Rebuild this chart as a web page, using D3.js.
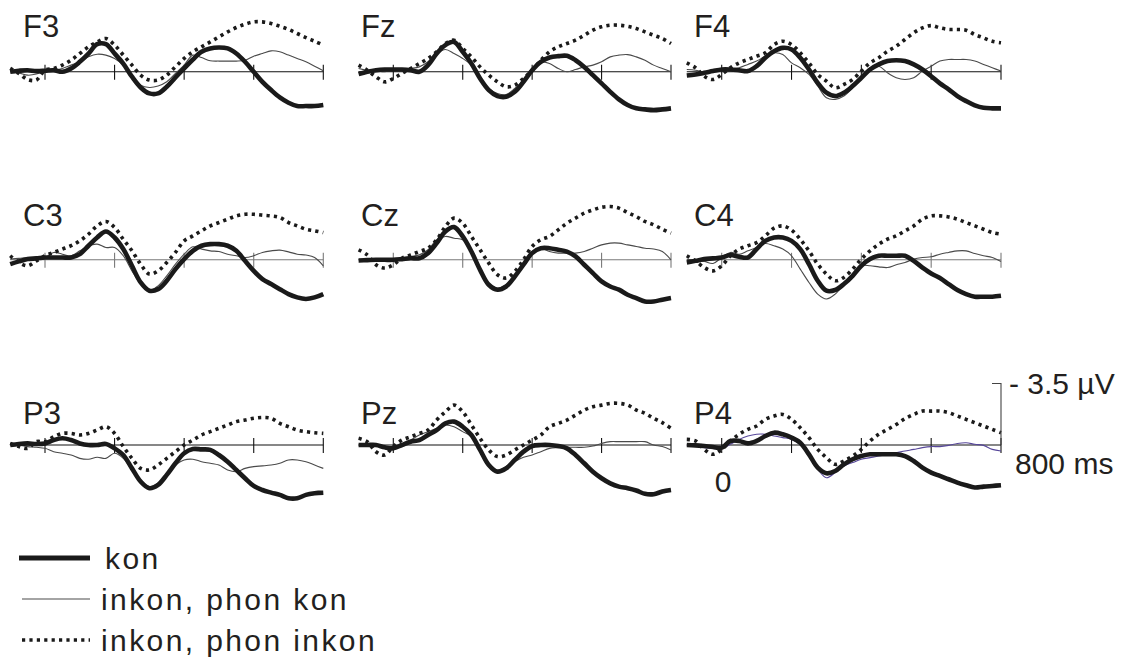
<!DOCTYPE html>
<html>
<head>
<meta charset="utf-8">
<script src="https://cdn.jsdelivr.net/npm/d3@7"></script>
<style>
  body { margin: 0; background: #fff; }
  svg { display: block; }
  text { font-family: "Liberation Sans", Arial, sans-serif; fill: #231f20; }
</style>
</head>
<body>
<svg id="chart" width="1121" height="663"></svg>
<script>
// Sample times (ms) relative to stimulus onset
const times = [-100,-75,-50,-25,0,25,50,75,100,125,150,175,200,225,250,275,300,325,350,375,400,425,450,475,500,525,550,575,600,625,650,675,700,725,750,775,800];
const timeTicks = [0, 200, 400, 600, 800];
const channelRows = [["F3", "Fz", "F4"], ["C3", "Cz", "C4"], ["P3", "Pz", "P4"]];
const conditions = ["kon", "inkon, phon kon", "inkon, phon inkon"];
const scaleAmplitude = -3.5; // µV, negative plotted upward

// Grand-average amplitudes (µV), one array per channel and condition
const F3_kon = [0,-0.06,-0.09,-0.04,-0.06,-0.09,0,-0.19,-0.57,-1.04,-1.57,-1.57,-1.04,-0.47,0.28,0.89,1.23,1.23,0.85,0.32,-0.19,-0.70,-1.14,-1.33,-1.38,-1.33,-1.04,-0.57,0,0.57,1.04,1.46,1.76,1.95,1.95,1.95,1.89];
const F3_phonKon = [0,0.06,0.19,0.13,-0.06,-0.09,-0.19,-0.38,-0.57,-0.85,-1.0,-0.95,-0.76,-0.38,0.19,0.76,0.89,0.81,0.57,0.09,-0.38,-0.95,-0.81,-0.63,-0.61,-0.61,-0.61,-0.66,-0.89,-1.04,-1.19,-1.14,-0.95,-0.76,-0.57,-0.32,-0.06];
const F3_phonInkon = [-0.19,0.09,0.44,0.47,-0.09,-0.19,-0.38,-0.66,-1.04,-1.42,-1.70,-1.89,-1.52,-0.95,-0.38,0.19,0.47,0.47,0.19,-0.28,-0.76,-1.14,-1.42,-1.70,-1.99,-2.27,-2.52,-2.71,-2.84,-2.84,-2.75,-2.59,-2.41,-2.18,-1.95,-1.74,-1.52];

const Fz_kon = [0.13,0,-0.09,-0.13,-0.13,-0.13,-0.09,0,-0.38,-1.04,-1.52,-1.70,-1.14,-0.47,0.38,1.04,1.38,1.42,1.14,0.57,-0.09,-0.57,-0.81,-0.89,-0.91,-0.66,-0.28,0.19,0.66,1.14,1.57,1.89,2.08,2.14,2.18,2.14,2.08];
const Fz_phonKon = [-0.19,-0.09,-0.06,0,-0.09,-0.13,-0.19,-0.28,-0.57,-1.04,-1.27,-1.04,-0.76,-0.38,0.28,0.95,1.23,1.29,0.95,0.47,-0.19,-0.57,-0.47,-0.19,0,-0.13,-0.28,-0.38,-0.57,-0.85,-0.95,-0.98,-0.85,-0.66,-0.38,-0.19,0];
const Fz_phonInkon = [-0.38,-0.09,0.28,0.57,0.38,0.09,-0.19,-0.47,-0.76,-1.14,-1.61,-1.80,-1.33,-0.85,-0.28,0.19,0.57,0.85,0.76,0.38,-0.09,-0.66,-1.14,-1.42,-1.61,-1.80,-2.08,-2.37,-2.56,-2.65,-2.65,-2.59,-2.46,-2.27,-2.08,-1.89,-1.61];

const F4_kon = [0.21,0.15,0.06,-0.04,-0.13,-0.13,-0.09,-0.04,-0.32,-0.80,-1.17,-1.36,-1.27,-0.80,-0.13,0.63,1.19,1.38,1.19,0.81,0.34,-0.13,-0.42,-0.61,-0.66,-0.61,-0.42,-0.13,0.25,0.66,1.00,1.38,1.67,1.91,2.05,2.08,2.08];
const F4_phonKon = [-0.13,-0.09,0.02,-0.04,-0.09,-0.17,-0.23,-0.42,-0.61,-0.89,-1.08,-0.98,-0.51,-0.23,0.15,0.81,1.48,1.57,1.38,0.91,0.25,-0.23,-0.32,0.06,0.34,0.44,0.34,-0.04,-0.32,-0.61,-0.70,-0.70,-0.70,-0.61,-0.42,-0.23,-0.04];
const F4_phonInkon = [-0.51,-0.23,0.25,0.44,0.15,-0.23,-0.51,-0.70,-0.89,-1.08,-1.55,-1.74,-1.55,-1.08,-0.51,0.15,0.53,0.91,0.72,0.44,-0.04,-0.51,-0.80,-1.17,-1.46,-1.84,-2.22,-2.50,-2.63,-2.50,-2.41,-2.41,-2.37,-2.12,-1.93,-1.74,-1.65];

const C3_kon = [0.25,0.09,-0.04,-0.08,-0.13,-0.13,-0.13,-0.13,-0.32,-0.80,-1.27,-1.61,-1.27,-0.61,0.34,1.29,1.76,1.67,1.19,0.53,-0.04,-0.51,-0.80,-0.89,-0.89,-0.80,-0.51,0.06,0.63,1.10,1.38,1.67,1.95,2.14,2.23,2.14,1.95];
const C3_phonKon = [-0.04,-0.08,-0.13,-0.13,-0.13,-0.42,-0.32,-0.23,-0.51,-0.80,-0.89,-0.70,-0.70,-0.23,0.63,1.38,1.76,1.48,0.91,0.25,-0.32,-0.74,-0.61,-0.51,-0.47,-0.32,-0.23,-0.13,-0.23,-0.42,-0.51,-0.55,-0.45,-0.32,-0.27,-0.13,0.34];
const C3_phonInkon = [-0.23,0.15,0.34,0.06,-0.23,-0.42,-0.61,-0.80,-1.08,-1.46,-1.93,-2.18,-1.84,-1.17,-0.51,0.25,0.81,0.63,0.15,-0.42,-1.08,-1.36,-1.65,-1.93,-2.12,-2.31,-2.50,-2.59,-2.59,-2.54,-2.50,-2.41,-2.12,-1.93,-1.74,-1.65,-1.55];

const Cz_kon = [0.04,0.02,0,0,0,-0.04,-0.09,-0.09,-0.38,-0.95,-1.61,-1.86,-1.33,-0.47,0.57,1.42,1.70,1.52,0.95,0.28,-0.38,-0.66,-0.66,-0.57,-0.47,-0.19,0.28,0.76,1.23,1.52,1.70,1.99,2.18,2.37,2.37,2.27,2.18];
const Cz_phonKon = [0,0,0,0.04,0,-0.09,-0.19,-0.28,-0.57,-1.14,-1.33,-1.23,-1.14,-0.57,0.47,1.33,1.61,1.42,0.85,0.19,-0.47,-0.66,-0.47,-0.38,-0.38,-0.38,-0.47,-0.66,-0.85,-0.95,-0.95,-0.85,-0.76,-0.66,-0.61,-0.47,0];
const Cz_phonInkon = [-0.57,-0.28,0.28,0.47,0.28,-0.09,-0.28,-0.47,-0.66,-1.14,-1.89,-2.37,-2.08,-1.33,-0.57,0.19,0.85,1.04,0.66,0,-0.76,-1.14,-1.33,-1.70,-2.08,-2.37,-2.65,-2.84,-2.99,-3.03,-2.94,-2.69,-2.46,-2.18,-1.99,-1.74,-1.52];

const C4_kon = [0.15,0.06,-0.04,-0.08,-0.13,-0.27,-0.17,-0.13,-0.61,-1.08,-1.27,-1.27,-1.08,-0.61,0.25,1.19,1.76,1.72,1.38,0.91,0.34,-0.04,-0.23,-0.23,-0.23,-0.23,0.06,0.44,0.78,1.04,1.38,1.72,1.95,2.10,2.10,2.10,2.05];
const C4_phonKon = [-0.04,0.06,0.09,0.21,-0.13,-0.42,-0.32,-0.51,-0.70,-0.93,-0.80,-0.61,-0.23,0.53,1.29,1.95,2.23,1.95,1.38,0.81,0.34,0.34,0.40,0.44,0.28,0.15,-0.04,-0.13,-0.17,-0.32,-0.42,-0.51,-0.51,-0.36,-0.23,-0.13,0.09];
const C4_phonInkon = [-0.23,0.06,0.44,0.63,0.34,-0.23,-0.61,-0.80,-0.98,-1.36,-1.80,-1.93,-1.69,-1.17,-0.51,0.25,0.81,1.19,1.00,0.53,-0.04,-0.51,-0.89,-1.17,-1.36,-1.65,-1.93,-2.31,-2.50,-2.50,-2.44,-2.31,-2.12,-1.93,-1.74,-1.55,-1.46];

const P3_kon = [0,-0.06,-0.09,-0.06,-0.09,-0.28,-0.38,-0.28,-0.09,0,0,-0.06,0.19,0.57,1.33,2.08,2.46,2.27,1.70,1.04,0.47,0.23,0.25,0.28,0.57,0.95,1.42,1.89,2.33,2.56,2.71,2.84,3.03,3.03,2.84,2.75,2.71];
const P3_phonKon = [-0.09,0,0.09,0.13,0.19,0.38,0.47,0.57,0.76,0.81,0.70,0.76,0.47,0.76,1.42,1.99,2.37,2.18,1.61,1.14,0.85,0.81,0.95,1.04,1.14,1.42,1.52,1.33,1.23,1.19,1.14,1.04,0.85,0.85,0.95,1.14,1.33];
const P3_phonInkon = [-0.09,0.09,0.19,-0.19,-0.19,-0.47,-0.66,-0.66,-0.57,-0.66,-0.85,-1.04,-0.66,0.09,0.76,1.33,1.42,1.14,0.76,0.38,0,-0.28,-0.57,-0.76,-0.95,-1.14,-1.33,-1.42,-1.52,-1.57,-1.52,-1.23,-1.04,-0.85,-0.76,-0.70,-0.66];

const Pz_kon = [0,0,0,0.13,0.19,0,-0.19,-0.28,-0.57,-0.85,-1.23,-1.33,-1.04,-0.57,0.28,1.14,1.52,1.33,0.85,0.38,0.06,0,0,0.06,0.19,0.57,1.04,1.52,1.89,2.18,2.37,2.46,2.59,2.78,2.80,2.65,2.56];
const Pz_phonKon = [0,0.02,0.06,0.13,0.19,0,-0.28,-0.57,-0.76,-0.95,-1.14,-1.04,-0.76,-0.47,0.28,1.14,1.42,1.23,0.95,0.70,0.57,0.38,0.19,0.15,0.13,0.13,0.13,0.06,-0.09,-0.19,-0.19,-0.19,-0.19,-0.19,0,0.09,0.28];
const Pz_phonInkon = [-0.38,-0.19,0.38,0.57,0.09,-0.28,-0.47,-0.66,-0.85,-1.42,-1.89,-2.27,-1.89,-1.14,-0.38,0.28,0.66,0.57,0.28,0,-0.28,-0.57,-1.04,-1.23,-1.42,-1.70,-1.99,-2.18,-2.27,-2.37,-2.37,-2.27,-1.99,-1.80,-1.52,-1.27,-0.95];

const P4_kon = [0,0.02,0.06,0.11,0.15,-0.23,-0.23,-0.09,-0.23,-0.51,-0.70,-0.61,-0.42,-0.13,0.53,1.29,1.61,1.48,1.10,0.81,0.63,0.53,0.53,0.53,0.53,0.63,0.91,1.29,1.57,1.76,1.95,2.14,2.29,2.42,2.37,2.33,2.29];
const P4_phonKon = [0,0.06,0.15,0.19,0.21,-0.04,-0.32,-0.51,-0.61,-0.61,-0.51,-0.42,-0.32,-0.04,0.63,1.38,1.86,1.57,1.19,1.00,0.81,0.72,0.63,0.53,0.44,0.34,0.25,0.15,0.09,0.09,0.02,-0.09,-0.13,-0.04,0.02,0.25,0.34];
const P4_phonInkon = [-0.32,-0.23,0.25,0.53,0.25,-0.23,-0.61,-0.89,-1.08,-1.46,-1.65,-1.74,-1.46,-0.98,-0.42,0.25,0.72,1.10,0.91,0.63,0.25,-0.23,-0.61,-0.89,-1.17,-1.50,-1.74,-1.93,-1.93,-1.93,-1.84,-1.65,-1.46,-1.27,-1.08,-0.89,-0.70];

// Lookup table: channel -> [kon, inkon/phon kon, inkon/phon inkon]
const waves = {
  F3: [F3_kon, F3_phonKon, F3_phonInkon], Fz: [Fz_kon, Fz_phonKon, Fz_phonInkon], F4: [F4_kon, F4_phonKon, F4_phonInkon],
  C3: [C3_kon, C3_phonKon, C3_phonInkon], Cz: [Cz_kon, Cz_phonKon, Cz_phonInkon], C4: [C4_kon, C4_phonKon, C4_phonInkon],
  P3: [P3_kon, P3_phonKon, P3_phonInkon], Pz: [Pz_kon, Pz_phonKon, Pz_phonInkon], P4: [P4_kon, P4_phonKon, P4_phonInkon]
};

// ---- layout ----
const colZero = [45, 393.3, 721.7];   // x of 0 ms per column
const colEnd  = [323.3, 671, 1001];   // x of 800 ms per column
const rowBase = [71.8, 259.8, 445];   // y of 0 µV per row
const halfHeight = 61.5;              // px for 3.5 µV
const labelX = [23, 361, 694];
const labelY = [37, 226, 424];
const axisColor = ["#111", "#7a7a7a", "#111"];

const styles = [
  { width: 4.6, color: "#1a1a1a", dash: null },       // kon
  { width: 1.1, color: "#4a4a4a", dash: null },       // inkon, phon kon
  { width: 3.6, color: "#1a1a1a", dash: "3.2,4.2" }   // inkon, phon inkon
];

const svg = d3.select("#chart");

channelRows.forEach((row, r) => {
  row.forEach((ch, c) => {
    const x = d3.scaleLinear().domain([0, 800]).range([colZero[c], colEnd[c]]);
    const y = d3.scaleLinear().domain([0, 3.5]).range([rowBase[r], rowBase[r] + halfHeight]);
    const g = svg.append("g").attr("class", "panel " + ch);

    // time axis with crossing ticks
    g.append("line")
      .attr("x1", x(times[0])).attr("x2", x(times[times.length - 1]))
      .attr("y1", y(0)).attr("y2", y(0))
      .attr("stroke", axisColor[r]).attr("stroke-width", 1.1);
    g.selectAll("line.tick").data(timeTicks).join("line")
      .attr("class", "tick")
      .attr("x1", d => x(d)).attr("x2", d => x(d))
      .attr("y1", y(0) - 7).attr("y2", y(0) + 8)
      .attr("stroke", axisColor[r]).attr("stroke-width", 1.1);

    const line = d3.line()
      .x((d, i) => x(times[i]))
      .y(d => y(d))
      .curve(d3.curveCatmullRom.alpha(0.5));

    // thin first, then thick, then dotted on top
    [1, 0, 2].forEach(k => {
      const st = styles[k];
      const color = (ch === "P4" && k === 1) ? "#57479a" : st.color;
      g.append("path")
        .attr("d", line(waves[ch][k]))
        .attr("fill", "none")
        .attr("stroke", color)
        .attr("stroke-width", st.width)
        .attr("stroke-dasharray", st.dash)
        .attr("stroke-linejoin", "round");
    });

    g.append("text")
      .attr("x", labelX[c]).attr("y", labelY[r])
      .attr("font-size", 31)
      .text(ch);

    // calibration bar on the last panel
    if (ch === "P4") {
      const xb = x(800);
      g.append("path")
        .attr("d", `M${xb - 9},${y(scaleAmplitude)}H${xb}V${y(0)}`)
        .attr("fill", "none").attr("stroke", "#444").attr("stroke-width", 1.1);
      g.append("text").attr("x", xb + 8).attr("y", y(scaleAmplitude) + 10)
        .attr("font-size", 30).text("- 3.5 µV");
      g.append("text").attr("x", xb + 14).attr("y", y(0) + 29)
        .attr("font-size", 30).text("800 ms");
      g.append("text").attr("x", x(0) - 7).attr("y", y(0) + 47)
        .attr("font-size", 30).text("0");
    }
  });
});

// ---- legend ----
const legendY = [558, 599, 640];
const legendTextX = [105, 101, 101];
const legend = svg.append("g").attr("class", "legend");
conditions.forEach((name, k) => {
  const st = styles[k];
  legend.append("line")
    .attr("x1", k === 0 ? 19 : 22).attr("x2", 90)
    .attr("y1", legendY[k]).attr("y2", legendY[k])
    .attr("stroke", st.color)
    .attr("stroke-width", k === 0 ? 5 : st.width)
    .attr("stroke-dasharray", st.dash);
  legend.append("text")
    .attr("x", legendTextX[k]).attr("y", legendY[k] + 11)
    .attr("font-size", 30)
    .attr("letter-spacing", 2.4)
    .text(name);
});
</script>
</body>
</html>
